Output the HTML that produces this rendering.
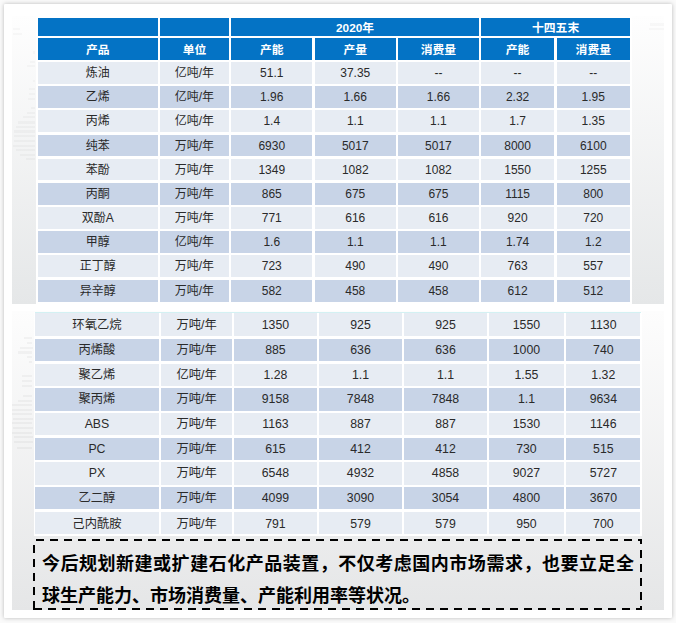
<!DOCTYPE html>
<html lang="zh-CN"><head><meta charset="utf-8"><title>石化产品产能与消费量</title>
<style>
html,body{margin:0;padding:0}
body{width:676px;height:623px;position:relative;overflow:hidden;background:#fafafa;font-family:"Liberation Sans","Noto Sans CJK SC",sans-serif}
.card{position:absolute;left:4px;top:4px;width:668px;height:614px;background:#fff;border-radius:1px;box-shadow:0 0 4px rgba(0,0,0,.26)}
.sec1{position:absolute;left:12px;top:16px;width:652px;height:288px;background:linear-gradient(#fefefe,#e5e7e8)}
.sec2{position:absolute;left:12px;top:311px;width:652px;height:299px;background:linear-gradient(#fdfdfd,#e5e6e7)}
.w1{position:absolute;left:35.5px;top:16px;width:596.5px;height:288px;background:#fff}
.w2{position:absolute;left:33.5px;top:312px;width:608.5px;height:224px;background:#fff}
.c,.h{position:absolute;text-align:center;white-space:nowrap;overflow:hidden}
.c{font-size:12px;color:#2a2a2a}
.c2{font-size:12.3px}
.h{font-size:11.8px;font-weight:bold;color:#fff}
.abs{position:absolute;left:0;top:0}
.cy{position:absolute;left:35px;top:312px;width:605.5px;height:1.3px;background:#d3f1f3}
.gh{position:absolute}
.note{position:absolute;left:42px;top:549.4px;width:592px;font-size:18px;font-weight:bold;line-height:31.5px;color:#000;font-family:"Liberation Sans","Noto Sans CJK SC",sans-serif;text-align:justify}
</style></head><body>
<div class="card"></div>
<div class="sec1"></div>
<div class="sec2"></div>
<div class="w1"></div>
<div class="w2"></div>
<div class="cy"></div>
<div class="h" style="left:37.5px;top:17.7px;width:120.5px;height:18.1px;line-height:19.5px;background:#0473c5"></div>
<div class="h" style="left:160px;top:17.7px;width:68.9px;height:18.1px;line-height:19.5px;background:#0473c5"></div>
<div class="h" style="left:231.4px;top:17.7px;width:247.4px;height:18.1px;line-height:20.7px;background:#0473c5">2020年</div>
<div class="h" style="left:481.2px;top:17.7px;width:148.8px;height:18.1px;line-height:20.7px;background:#0473c5">十四五末</div>
<div class="h" style="left:37.5px;top:38.4px;width:120.5px;height:21.2px;line-height:25.8px;background:#0473c5">产品</div>
<div class="h" style="left:160px;top:38.4px;width:68.9px;height:21.2px;line-height:25.8px;background:#0473c5">单位</div>
<div class="h" style="left:231.4px;top:38.4px;width:80.8px;height:21.2px;line-height:25.8px;background:#0473c5">产能</div>
<div class="h" style="left:314.9px;top:38.4px;width:80.7px;height:21.2px;line-height:25.8px;background:#0473c5">产量</div>
<div class="h" style="left:398.1px;top:38.4px;width:80.7px;height:21.2px;line-height:25.8px;background:#0473c5">消费量</div>
<div class="h" style="left:481.2px;top:38.4px;width:72.8px;height:21.2px;line-height:25.8px;background:#0473c5">产能</div>
<div class="h" style="left:556.6px;top:38.4px;width:73.4px;height:21.2px;line-height:25.8px;background:#0473c5">消费量</div>
<div class="c" style="left:37.5px;top:62.1px;width:120.5px;height:21.76px;line-height:23.16px;background:#e7ecf3">炼油</div>
<div class="c" style="left:160px;top:62.1px;width:68.9px;height:21.76px;line-height:23.16px;background:#e7ecf3">亿吨/年</div>
<div class="c" style="left:231.4px;top:62.1px;width:80.8px;height:21.76px;line-height:23.16px;background:#e7ecf3">51.1</div>
<div class="c" style="left:314.9px;top:62.1px;width:80.7px;height:21.76px;line-height:23.16px;background:#e7ecf3">37.35</div>
<div class="c" style="left:398.1px;top:62.1px;width:80.7px;height:21.76px;line-height:23.16px;background:#e7ecf3">--</div>
<div class="c" style="left:481.2px;top:62.1px;width:72.8px;height:21.76px;line-height:23.16px;background:#e7ecf3">--</div>
<div class="c" style="left:556.6px;top:62.1px;width:73.4px;height:21.76px;line-height:23.16px;background:#e7ecf3">--</div>
<div class="c" style="left:37.5px;top:86.26px;width:120.5px;height:21.76px;line-height:23.16px;background:#c8d4e7">乙烯</div>
<div class="c" style="left:160px;top:86.26px;width:68.9px;height:21.76px;line-height:23.16px;background:#c8d4e7">亿吨/年</div>
<div class="c" style="left:231.4px;top:86.26px;width:80.8px;height:21.76px;line-height:23.16px;background:#c8d4e7">1.96</div>
<div class="c" style="left:314.9px;top:86.26px;width:80.7px;height:21.76px;line-height:23.16px;background:#c8d4e7">1.66</div>
<div class="c" style="left:398.1px;top:86.26px;width:80.7px;height:21.76px;line-height:23.16px;background:#c8d4e7">1.66</div>
<div class="c" style="left:481.2px;top:86.26px;width:72.8px;height:21.76px;line-height:23.16px;background:#c8d4e7">2.32</div>
<div class="c" style="left:556.6px;top:86.26px;width:73.4px;height:21.76px;line-height:23.16px;background:#c8d4e7">1.95</div>
<div class="c" style="left:37.5px;top:110.42px;width:120.5px;height:21.76px;line-height:23.16px;background:#e7ecf3">丙烯</div>
<div class="c" style="left:160px;top:110.42px;width:68.9px;height:21.76px;line-height:23.16px;background:#e7ecf3">亿吨/年</div>
<div class="c" style="left:231.4px;top:110.42px;width:80.8px;height:21.76px;line-height:23.16px;background:#e7ecf3">1.4</div>
<div class="c" style="left:314.9px;top:110.42px;width:80.7px;height:21.76px;line-height:23.16px;background:#e7ecf3">1.1</div>
<div class="c" style="left:398.1px;top:110.42px;width:80.7px;height:21.76px;line-height:23.16px;background:#e7ecf3">1.1</div>
<div class="c" style="left:481.2px;top:110.42px;width:72.8px;height:21.76px;line-height:23.16px;background:#e7ecf3">1.7</div>
<div class="c" style="left:556.6px;top:110.42px;width:73.4px;height:21.76px;line-height:23.16px;background:#e7ecf3">1.35</div>
<div class="c" style="left:37.5px;top:134.58px;width:120.5px;height:21.76px;line-height:23.16px;background:#c8d4e7">纯苯</div>
<div class="c" style="left:160px;top:134.58px;width:68.9px;height:21.76px;line-height:23.16px;background:#c8d4e7">万吨/年</div>
<div class="c" style="left:231.4px;top:134.58px;width:80.8px;height:21.76px;line-height:23.16px;background:#c8d4e7">6930</div>
<div class="c" style="left:314.9px;top:134.58px;width:80.7px;height:21.76px;line-height:23.16px;background:#c8d4e7">5017</div>
<div class="c" style="left:398.1px;top:134.58px;width:80.7px;height:21.76px;line-height:23.16px;background:#c8d4e7">5017</div>
<div class="c" style="left:481.2px;top:134.58px;width:72.8px;height:21.76px;line-height:23.16px;background:#c8d4e7">8000</div>
<div class="c" style="left:556.6px;top:134.58px;width:73.4px;height:21.76px;line-height:23.16px;background:#c8d4e7">6100</div>
<div class="c" style="left:37.5px;top:158.74px;width:120.5px;height:21.76px;line-height:23.16px;background:#e7ecf3">苯酚</div>
<div class="c" style="left:160px;top:158.74px;width:68.9px;height:21.76px;line-height:23.16px;background:#e7ecf3">万吨/年</div>
<div class="c" style="left:231.4px;top:158.74px;width:80.8px;height:21.76px;line-height:23.16px;background:#e7ecf3">1349</div>
<div class="c" style="left:314.9px;top:158.74px;width:80.7px;height:21.76px;line-height:23.16px;background:#e7ecf3">1082</div>
<div class="c" style="left:398.1px;top:158.74px;width:80.7px;height:21.76px;line-height:23.16px;background:#e7ecf3">1082</div>
<div class="c" style="left:481.2px;top:158.74px;width:72.8px;height:21.76px;line-height:23.16px;background:#e7ecf3">1550</div>
<div class="c" style="left:556.6px;top:158.74px;width:73.4px;height:21.76px;line-height:23.16px;background:#e7ecf3">1255</div>
<div class="c" style="left:37.5px;top:182.9px;width:120.5px;height:21.76px;line-height:23.16px;background:#c8d4e7">丙酮</div>
<div class="c" style="left:160px;top:182.9px;width:68.9px;height:21.76px;line-height:23.16px;background:#c8d4e7">万吨/年</div>
<div class="c" style="left:231.4px;top:182.9px;width:80.8px;height:21.76px;line-height:23.16px;background:#c8d4e7">865</div>
<div class="c" style="left:314.9px;top:182.9px;width:80.7px;height:21.76px;line-height:23.16px;background:#c8d4e7">675</div>
<div class="c" style="left:398.1px;top:182.9px;width:80.7px;height:21.76px;line-height:23.16px;background:#c8d4e7">675</div>
<div class="c" style="left:481.2px;top:182.9px;width:72.8px;height:21.76px;line-height:23.16px;background:#c8d4e7">1115</div>
<div class="c" style="left:556.6px;top:182.9px;width:73.4px;height:21.76px;line-height:23.16px;background:#c8d4e7">800</div>
<div class="c" style="left:37.5px;top:207.06px;width:120.5px;height:21.76px;line-height:23.16px;background:#e7ecf3">双酚A</div>
<div class="c" style="left:160px;top:207.06px;width:68.9px;height:21.76px;line-height:23.16px;background:#e7ecf3">万吨/年</div>
<div class="c" style="left:231.4px;top:207.06px;width:80.8px;height:21.76px;line-height:23.16px;background:#e7ecf3">771</div>
<div class="c" style="left:314.9px;top:207.06px;width:80.7px;height:21.76px;line-height:23.16px;background:#e7ecf3">616</div>
<div class="c" style="left:398.1px;top:207.06px;width:80.7px;height:21.76px;line-height:23.16px;background:#e7ecf3">616</div>
<div class="c" style="left:481.2px;top:207.06px;width:72.8px;height:21.76px;line-height:23.16px;background:#e7ecf3">920</div>
<div class="c" style="left:556.6px;top:207.06px;width:73.4px;height:21.76px;line-height:23.16px;background:#e7ecf3">720</div>
<div class="c" style="left:37.5px;top:231.22px;width:120.5px;height:21.76px;line-height:23.16px;background:#c8d4e7">甲醇</div>
<div class="c" style="left:160px;top:231.22px;width:68.9px;height:21.76px;line-height:23.16px;background:#c8d4e7">亿吨/年</div>
<div class="c" style="left:231.4px;top:231.22px;width:80.8px;height:21.76px;line-height:23.16px;background:#c8d4e7">1.6</div>
<div class="c" style="left:314.9px;top:231.22px;width:80.7px;height:21.76px;line-height:23.16px;background:#c8d4e7">1.1</div>
<div class="c" style="left:398.1px;top:231.22px;width:80.7px;height:21.76px;line-height:23.16px;background:#c8d4e7">1.1</div>
<div class="c" style="left:481.2px;top:231.22px;width:72.8px;height:21.76px;line-height:23.16px;background:#c8d4e7">1.74</div>
<div class="c" style="left:556.6px;top:231.22px;width:73.4px;height:21.76px;line-height:23.16px;background:#c8d4e7">1.2</div>
<div class="c" style="left:37.5px;top:255.38px;width:120.5px;height:21.76px;line-height:23.16px;background:#e7ecf3">正丁醇</div>
<div class="c" style="left:160px;top:255.38px;width:68.9px;height:21.76px;line-height:23.16px;background:#e7ecf3">万吨/年</div>
<div class="c" style="left:231.4px;top:255.38px;width:80.8px;height:21.76px;line-height:23.16px;background:#e7ecf3">723</div>
<div class="c" style="left:314.9px;top:255.38px;width:80.7px;height:21.76px;line-height:23.16px;background:#e7ecf3">490</div>
<div class="c" style="left:398.1px;top:255.38px;width:80.7px;height:21.76px;line-height:23.16px;background:#e7ecf3">490</div>
<div class="c" style="left:481.2px;top:255.38px;width:72.8px;height:21.76px;line-height:23.16px;background:#e7ecf3">763</div>
<div class="c" style="left:556.6px;top:255.38px;width:73.4px;height:21.76px;line-height:23.16px;background:#e7ecf3">557</div>
<div class="c" style="left:37.5px;top:279.54px;width:120.5px;height:22.16px;line-height:23.56px;background:#c8d4e7">异辛醇</div>
<div class="c" style="left:160px;top:279.54px;width:68.9px;height:22.16px;line-height:23.56px;background:#c8d4e7">万吨/年</div>
<div class="c" style="left:231.4px;top:279.54px;width:80.8px;height:22.16px;line-height:23.56px;background:#c8d4e7">582</div>
<div class="c" style="left:314.9px;top:279.54px;width:80.7px;height:22.16px;line-height:23.56px;background:#c8d4e7">458</div>
<div class="c" style="left:398.1px;top:279.54px;width:80.7px;height:22.16px;line-height:23.56px;background:#c8d4e7">458</div>
<div class="c" style="left:481.2px;top:279.54px;width:72.8px;height:22.16px;line-height:23.56px;background:#c8d4e7">612</div>
<div class="c" style="left:556.6px;top:279.54px;width:73.4px;height:22.16px;line-height:23.56px;background:#c8d4e7">512</div>
<div class="c c2" style="left:35px;top:313.3px;width:123.9px;height:23.2px;line-height:24.6px;background:#e7ecf3">环氧乙烷</div>
<div class="c c2" style="left:161.1px;top:313.3px;width:71px;height:23.2px;line-height:24.6px;background:#e7ecf3">万吨/年</div>
<div class="c c2" style="left:234.3px;top:313.3px;width:82.3px;height:23.2px;line-height:24.6px;background:#e7ecf3">1350</div>
<div class="c c2" style="left:319.3px;top:313.3px;width:82.4px;height:23.2px;line-height:24.6px;background:#e7ecf3">925</div>
<div class="c c2" style="left:404.3px;top:313.3px;width:82.4px;height:23.2px;line-height:24.6px;background:#e7ecf3">925</div>
<div class="c c2" style="left:489.3px;top:313.3px;width:74.3px;height:23.2px;line-height:24.6px;background:#e7ecf3">1550</div>
<div class="c c2" style="left:566.2px;top:313.3px;width:74.3px;height:23.2px;line-height:24.6px;background:#e7ecf3">1130</div>
<div class="c c2" style="left:35px;top:338.9px;width:123.9px;height:22.27px;line-height:23.67px;background:#c8d4e7">丙烯酸</div>
<div class="c c2" style="left:161.1px;top:338.9px;width:71px;height:22.27px;line-height:23.67px;background:#c8d4e7">万吨/年</div>
<div class="c c2" style="left:234.3px;top:338.9px;width:82.3px;height:22.27px;line-height:23.67px;background:#c8d4e7">885</div>
<div class="c c2" style="left:319.3px;top:338.9px;width:82.4px;height:22.27px;line-height:23.67px;background:#c8d4e7">636</div>
<div class="c c2" style="left:404.3px;top:338.9px;width:82.4px;height:22.27px;line-height:23.67px;background:#c8d4e7">636</div>
<div class="c c2" style="left:489.3px;top:338.9px;width:74.3px;height:22.27px;line-height:23.67px;background:#c8d4e7">1000</div>
<div class="c c2" style="left:566.2px;top:338.9px;width:74.3px;height:22.27px;line-height:23.67px;background:#c8d4e7">740</div>
<div class="c c2" style="left:35px;top:363.57px;width:123.9px;height:22.27px;line-height:23.67px;background:#e7ecf3">聚乙烯</div>
<div class="c c2" style="left:161.1px;top:363.57px;width:71px;height:22.27px;line-height:23.67px;background:#e7ecf3">亿吨/年</div>
<div class="c c2" style="left:234.3px;top:363.57px;width:82.3px;height:22.27px;line-height:23.67px;background:#e7ecf3">1.28</div>
<div class="c c2" style="left:319.3px;top:363.57px;width:82.4px;height:22.27px;line-height:23.67px;background:#e7ecf3">1.1</div>
<div class="c c2" style="left:404.3px;top:363.57px;width:82.4px;height:22.27px;line-height:23.67px;background:#e7ecf3">1.1</div>
<div class="c c2" style="left:489.3px;top:363.57px;width:74.3px;height:22.27px;line-height:23.67px;background:#e7ecf3">1.55</div>
<div class="c c2" style="left:566.2px;top:363.57px;width:74.3px;height:22.27px;line-height:23.67px;background:#e7ecf3">1.32</div>
<div class="c c2" style="left:35px;top:388.24px;width:123.9px;height:22.27px;line-height:23.67px;background:#c8d4e7">聚丙烯</div>
<div class="c c2" style="left:161.1px;top:388.24px;width:71px;height:22.27px;line-height:23.67px;background:#c8d4e7">万吨/年</div>
<div class="c c2" style="left:234.3px;top:388.24px;width:82.3px;height:22.27px;line-height:23.67px;background:#c8d4e7">9158</div>
<div class="c c2" style="left:319.3px;top:388.24px;width:82.4px;height:22.27px;line-height:23.67px;background:#c8d4e7">7848</div>
<div class="c c2" style="left:404.3px;top:388.24px;width:82.4px;height:22.27px;line-height:23.67px;background:#c8d4e7">7848</div>
<div class="c c2" style="left:489.3px;top:388.24px;width:74.3px;height:22.27px;line-height:23.67px;background:#c8d4e7">1.1</div>
<div class="c c2" style="left:566.2px;top:388.24px;width:74.3px;height:22.27px;line-height:23.67px;background:#c8d4e7">9634</div>
<div class="c c2" style="left:35px;top:412.91px;width:123.9px;height:22.27px;line-height:23.67px;background:#e7ecf3">ABS</div>
<div class="c c2" style="left:161.1px;top:412.91px;width:71px;height:22.27px;line-height:23.67px;background:#e7ecf3">万吨/年</div>
<div class="c c2" style="left:234.3px;top:412.91px;width:82.3px;height:22.27px;line-height:23.67px;background:#e7ecf3">1163</div>
<div class="c c2" style="left:319.3px;top:412.91px;width:82.4px;height:22.27px;line-height:23.67px;background:#e7ecf3">887</div>
<div class="c c2" style="left:404.3px;top:412.91px;width:82.4px;height:22.27px;line-height:23.67px;background:#e7ecf3">887</div>
<div class="c c2" style="left:489.3px;top:412.91px;width:74.3px;height:22.27px;line-height:23.67px;background:#e7ecf3">1530</div>
<div class="c c2" style="left:566.2px;top:412.91px;width:74.3px;height:22.27px;line-height:23.67px;background:#e7ecf3">1146</div>
<div class="c c2" style="left:35px;top:437.58px;width:123.9px;height:22.27px;line-height:23.67px;background:#c8d4e7">PC</div>
<div class="c c2" style="left:161.1px;top:437.58px;width:71px;height:22.27px;line-height:23.67px;background:#c8d4e7">万吨/年</div>
<div class="c c2" style="left:234.3px;top:437.58px;width:82.3px;height:22.27px;line-height:23.67px;background:#c8d4e7">615</div>
<div class="c c2" style="left:319.3px;top:437.58px;width:82.4px;height:22.27px;line-height:23.67px;background:#c8d4e7">412</div>
<div class="c c2" style="left:404.3px;top:437.58px;width:82.4px;height:22.27px;line-height:23.67px;background:#c8d4e7">412</div>
<div class="c c2" style="left:489.3px;top:437.58px;width:74.3px;height:22.27px;line-height:23.67px;background:#c8d4e7">730</div>
<div class="c c2" style="left:566.2px;top:437.58px;width:74.3px;height:22.27px;line-height:23.67px;background:#c8d4e7">515</div>
<div class="c c2" style="left:35px;top:462.25px;width:123.9px;height:22.27px;line-height:23.67px;background:#e7ecf3">PX</div>
<div class="c c2" style="left:161.1px;top:462.25px;width:71px;height:22.27px;line-height:23.67px;background:#e7ecf3">万吨/年</div>
<div class="c c2" style="left:234.3px;top:462.25px;width:82.3px;height:22.27px;line-height:23.67px;background:#e7ecf3">6548</div>
<div class="c c2" style="left:319.3px;top:462.25px;width:82.4px;height:22.27px;line-height:23.67px;background:#e7ecf3">4932</div>
<div class="c c2" style="left:404.3px;top:462.25px;width:82.4px;height:22.27px;line-height:23.67px;background:#e7ecf3">4858</div>
<div class="c c2" style="left:489.3px;top:462.25px;width:74.3px;height:22.27px;line-height:23.67px;background:#e7ecf3">9027</div>
<div class="c c2" style="left:566.2px;top:462.25px;width:74.3px;height:22.27px;line-height:23.67px;background:#e7ecf3">5727</div>
<div class="c c2" style="left:35px;top:486.92px;width:123.9px;height:22.27px;line-height:23.67px;background:#c8d4e7">乙二醇</div>
<div class="c c2" style="left:161.1px;top:486.92px;width:71px;height:22.27px;line-height:23.67px;background:#c8d4e7">万吨/年</div>
<div class="c c2" style="left:234.3px;top:486.92px;width:82.3px;height:22.27px;line-height:23.67px;background:#c8d4e7">4099</div>
<div class="c c2" style="left:319.3px;top:486.92px;width:82.4px;height:22.27px;line-height:23.67px;background:#c8d4e7">3090</div>
<div class="c c2" style="left:404.3px;top:486.92px;width:82.4px;height:22.27px;line-height:23.67px;background:#c8d4e7">3054</div>
<div class="c c2" style="left:489.3px;top:486.92px;width:74.3px;height:22.27px;line-height:23.67px;background:#c8d4e7">4800</div>
<div class="c c2" style="left:566.2px;top:486.92px;width:74.3px;height:22.27px;line-height:23.67px;background:#c8d4e7">3670</div>
<div class="c c2" style="left:35px;top:511.59px;width:123.9px;height:22.61px;line-height:24.01px;background:#e7ecf3">己内酰胺</div>
<div class="c c2" style="left:161.1px;top:511.59px;width:71px;height:22.61px;line-height:24.01px;background:#e7ecf3">万吨/年</div>
<div class="c c2" style="left:234.3px;top:511.59px;width:82.3px;height:22.61px;line-height:24.01px;background:#e7ecf3">791</div>
<div class="c c2" style="left:319.3px;top:511.59px;width:82.4px;height:22.61px;line-height:24.01px;background:#e7ecf3">579</div>
<div class="c c2" style="left:404.3px;top:511.59px;width:82.4px;height:22.61px;line-height:24.01px;background:#e7ecf3">579</div>
<div class="c c2" style="left:489.3px;top:511.59px;width:74.3px;height:22.61px;line-height:24.01px;background:#e7ecf3">950</div>
<div class="c c2" style="left:566.2px;top:511.59px;width:74.3px;height:22.61px;line-height:24.01px;background:#e7ecf3">700</div>
<div class="gh" style="left:30.5px;top:107.3px;width:4.5px;height:2.2px;background:rgba(0,0,0,0.028)"></div>
<div class="gh" style="left:27.3px;top:111.8px;width:7.7px;height:2.2px;background:rgba(0,0,0,0.028)"></div>
<div class="gh" style="left:23.4px;top:116.3px;width:11.6px;height:2.2px;background:rgba(0,0,0,0.028)"></div>
<div class="gh" style="left:18.3px;top:121.4px;width:16.7px;height:2.2px;background:rgba(0,0,0,0.028)"></div>
<div class="gh" style="left:16.4px;top:125.9px;width:18.6px;height:2.2px;background:rgba(0,0,0,0.028)"></div>
<div class="gh" style="left:13.8px;top:130.4px;width:21.2px;height:2.2px;background:rgba(0,0,0,0.028)"></div>
<div class="gh" style="left:13.8px;top:135.1px;width:21.2px;height:2.2px;background:rgba(0,0,0,0.028)"></div>
<div class="gh" style="left:13.8px;top:139.8px;width:21.2px;height:2.2px;background:rgba(0,0,0,0.028)"></div>
<div class="gh" style="left:12.5px;top:144.5px;width:22.5px;height:2.2px;background:rgba(0,0,0,0.028)"></div>
<div class="gh" style="left:15.7px;top:149px;width:19.3px;height:2.2px;background:rgba(0,0,0,0.028)"></div>
<div class="gh" style="left:20.2px;top:153.5px;width:14.8px;height:2.2px;background:rgba(0,0,0,0.028)"></div>
<div class="gh" style="left:26px;top:158.3px;width:9px;height:2.2px;background:rgba(0,0,0,0.028)"></div>
<div class="gh" style="left:13px;top:28.3px;width:6.5px;height:2.2px;background:rgba(0,0,0,0.025)"></div>
<div class="gh" style="left:13px;top:32.7px;width:8.7px;height:2.2px;background:rgba(0,0,0,0.025)"></div>
<div class="gh" style="left:32.5px;top:51.4px;width:2.5px;height:2.2px;background:rgba(0,0,0,0.025)"></div>
<div class="gh" style="left:30.4px;top:60.9px;width:4.6px;height:2.2px;background:rgba(0,0,0,0.025)"></div>
<div class="gh" style="left:26.8px;top:65.1px;width:8.2px;height:2.2px;background:rgba(0,0,0,0.025)"></div>
<div class="gh" style="left:33px;top:80.3px;width:2px;height:2.2px;background:rgba(0,0,0,0.025)"></div>
<div class="gh" style="left:29px;top:88.2px;width:6px;height:2.2px;background:rgba(0,0,0,0.025)"></div>
<div class="gh" style="left:29px;top:93.3px;width:6px;height:2.2px;background:rgba(0,0,0,0.025)"></div>
<div class="gh" style="left:28px;top:98.3px;width:7px;height:2.2px;background:rgba(0,0,0,0.025)"></div>
<div class="gh" style="left:649.7px;top:23.4px;width:14.3px;height:2.2px;background:rgba(0,0,0,0.025)"></div>
<div class="gh" style="left:649px;top:28.2px;width:15px;height:2.2px;background:rgba(0,0,0,0.025)"></div>
<div class="gh" style="left:23.7px;top:336.9px;width:8.8px;height:2.2px;background:rgba(0,0,0,0.035)"></div>
<div class="gh" style="left:26.8px;top:341.9px;width:5.7px;height:2.2px;background:rgba(0,0,0,0.035)"></div>
<div class="gh" style="left:19.5px;top:346.6px;width:13px;height:2.2px;background:rgba(0,0,0,0.035)"></div>
<div class="gh" style="left:18.4px;top:351.4px;width:14.1px;height:2.2px;background:rgba(0,0,0,0.035)"></div>
<div class="gh" style="left:26.8px;top:355.9px;width:5.7px;height:2.2px;background:rgba(0,0,0,0.035)"></div>
<div class="gh" style="left:28.9px;top:361.3px;width:3.6px;height:2.2px;background:rgba(0,0,0,0.035)"></div>
<div class="gh" style="left:21.6px;top:374.9px;width:10.9px;height:2.2px;background:rgba(0,0,0,0.035)"></div>
<div class="gh" style="left:21.6px;top:379.9px;width:10.9px;height:2.2px;background:rgba(0,0,0,0.035)"></div>
<div class="gh" style="left:21.6px;top:384.9px;width:10.9px;height:2.2px;background:rgba(0,0,0,0.035)"></div>
<div class="gh" style="left:22.6px;top:394.7px;width:9.9px;height:2.2px;background:rgba(0,0,0,0.035)"></div>
<div class="gh" style="left:18.4px;top:399.9px;width:14.1px;height:2.2px;background:rgba(0,0,0,0.035)"></div>
<div class="gh" style="left:12.2px;top:403.9px;width:20.3px;height:2.2px;background:rgba(0,0,0,0.035)"></div>
<div class="gh" style="left:12.2px;top:408.5px;width:20.3px;height:2.2px;background:rgba(0,0,0,0.035)"></div>
<div class="gh" style="left:12.2px;top:413.1px;width:20.3px;height:2.2px;background:rgba(0,0,0,0.035)"></div>
<div class="gh" style="left:12.5px;top:417.7px;width:20px;height:2.2px;background:rgba(0,0,0,0.035)"></div>
<div class="gh" style="left:12.2px;top:422.3px;width:20.3px;height:2.2px;background:rgba(0,0,0,0.035)"></div>
<div class="gh" style="left:13px;top:426.9px;width:19.5px;height:2.2px;background:rgba(0,0,0,0.035)"></div>
<div class="gh" style="left:12.2px;top:431.5px;width:20.3px;height:2.2px;background:rgba(0,0,0,0.035)"></div>
<div class="gh" style="left:13.5px;top:436.1px;width:19px;height:2.2px;background:rgba(0,0,0,0.035)"></div>
<div class="gh" style="left:14px;top:440.7px;width:18.5px;height:2.2px;background:rgba(0,0,0,0.035)"></div>
<div class="gh" style="left:17.4px;top:446.9px;width:15.1px;height:2.2px;background:rgba(0,0,0,0.035)"></div>
<svg class="abs" width="676" height="623" viewBox="0 0 676 623"><path fill="#000" d="M36 539H44V541H36ZM50 539H58V541H50ZM64 539H72V541H64ZM78 539H86V541H78ZM92 539H100V541H92ZM106 539H114V541H106ZM120 539H128V541H120ZM134 539H142V541H134ZM148 539H156V541H148ZM162 539H170V541H162ZM176 539H184V541H176ZM190 539H198V541H190ZM204 539H212V541H204ZM218 539H226V541H218ZM232 539H240V541H232ZM246 539H254V541H246ZM260 539H268V541H260ZM274 539H282V541H274ZM288 539H296V541H288ZM302 539H310V541H302ZM316 539H324V541H316ZM330 539H338V541H330ZM344 539H352V541H344ZM358 539H366V541H358ZM372 539H380V541H372ZM386 539H394V541H386ZM400 539H408V541H400ZM414 539H422V541H414ZM428 539H436V541H428ZM442 539H450V541H442ZM456 539H464V541H456ZM470 539H478V541H470ZM484 539H492V541H484ZM498 539H506V541H498ZM512 539H520V541H512ZM526 539H534V541H526ZM540 539H548V541H540ZM554 539H562V541H554ZM568 539H576V541H568ZM582 539H590V541H582ZM596 539H604V541H596ZM610 539H618V541H610ZM624 539H632V541H624ZM638 539H642V541H638ZM640 539H642V544H640ZM640 550H642V558H640ZM640 564H642V572H640ZM640 578H642V586H640ZM640 592H642V600H640ZM640 606H642V610H640ZM636 608H642V610H636ZM622 608H630V610H622ZM608 608H616V610H608ZM594 608H602V610H594ZM580 608H588V610H580ZM566 608H574V610H566ZM552 608H560V610H552ZM538 608H546V610H538ZM524 608H532V610H524ZM510 608H518V610H510ZM496 608H504V610H496ZM482 608H490V610H482ZM468 608H476V610H468ZM454 608H462V610H454ZM440 608H448V610H440ZM426 608H434V610H426ZM412 608H420V610H412ZM398 608H406V610H398ZM384 608H392V610H384ZM370 608H378V610H370ZM356 608H364V610H356ZM342 608H350V610H342ZM328 608H336V610H328ZM314 608H322V610H314ZM300 608H308V610H300ZM286 608H294V610H286ZM272 608H280V610H272ZM258 608H266V610H258ZM244 608H252V610H244ZM230 608H238V610H230ZM216 608H224V610H216ZM202 608H210V610H202ZM188 608H196V610H188ZM174 608H182V610H174ZM160 608H168V610H160ZM146 608H154V610H146ZM132 608H140V610H132ZM118 608H126V610H118ZM104 608H112V610H104ZM90 608H98V610H90ZM76 608H84V610H76ZM62 608H70V610H62ZM48 608H56V610H48ZM33 608H42V610H33ZM33 601H35V610H33ZM33 587H35V595H33ZM33 573H35V581H33ZM33 559H35V567H33ZM33 545H35V553H33Z"/></svg>
<div class="note">今后规划新建或扩建石化产品装置，不仅考虑国内市场需求，也要立足全球生产能力、市场消费量、产能利用率等状况。</div>
</body></html>
